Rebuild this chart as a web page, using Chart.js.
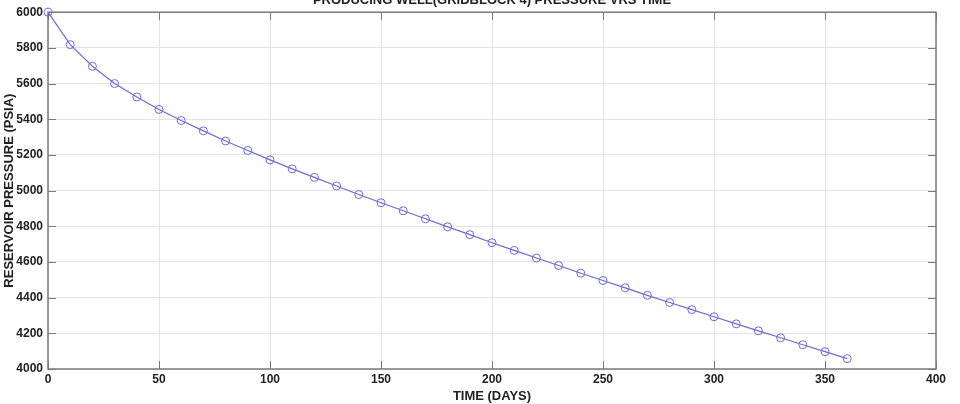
<!DOCTYPE html>
<html>
<head>
<meta charset="utf-8">
<script src="https://cdn.jsdelivr.net/npm/chart.js@4"></script>
<style>
  html, body { margin: 0; padding: 0; background: #fff; }
  #wrap { width: 960px; height: 404px; position: relative; }
</style>
</head>
<body>
<div id="wrap"><canvas id="wellPressure"></canvas></div>
<script>
// producing well pressure vs time

const days = [0, 10, 20, 30, 40, 50, 60, 70, 80, 90, 100, 110, 120, 130, 140, 150, 160, 170, 180,
  190, 200, 210, 220, 230, 240, 250, 260, 270, 280, 290, 300, 310, 320, 330, 340, 350, 360];

const pressure = [6000, 5818, 5697, 5600, 5525, 5455, 5393, 5335, 5278, 5225, 5172, 5122, 5074,
  5026, 4978, 4932, 4887, 4842, 4797, 4753, 4708, 4665, 4622, 4580, 4537, 4496, 4455, 4413,
  4373, 4333, 4293, 4253, 4214, 4175, 4136, 4097, 4058];

const chartTitle = 'PRODUCING WELL(GRIDBLOCK 4) PRESSURE VRS TIME';
const xTitle = 'TIME (DAYS)';
const yTitle = 'RESERVOIR PRESSURE (PSIA)';

const FONT = '"Liberation Sans", Arial, sans-serif';
const lineColor = '#6b6bd6';

// box round the axes, inward ticks and the clipped title at the top
const matlabBox = {
  id: 'matlabBox',
  beforeDatasetsDraw(chart) {
    const { ctx, chartArea: a, scales } = chart;
    ctx.save();
    ctx.strokeStyle = '#7a7a7a';
    ctx.lineWidth = 1.5;
    ctx.strokeRect(a.left, a.top, a.right - a.left, a.bottom - a.top);
    ctx.beginPath();
    scales.x.ticks.forEach(t => {
      const px = Math.round(scales.x.getPixelForValue(t.value)) + 0.5;
      ctx.moveTo(px, a.bottom); ctx.lineTo(px, a.bottom - 8);
      ctx.moveTo(px, a.top); ctx.lineTo(px, a.top + 8);
    });
    scales.y.ticks.forEach(t => {
      const py = Math.round(scales.y.getPixelForValue(t.value)) + 0.5;
      ctx.moveTo(a.left, py); ctx.lineTo(a.left + 8, py);
      ctx.moveTo(a.right, py); ctx.lineTo(a.right - 8, py);
    });
    ctx.lineWidth = 1;
    ctx.stroke();
    ctx.restore();
  },
  afterDraw(chart) {
    const { ctx, chartArea: a } = chart;
    ctx.save();
    ctx.fillStyle = '#222';
    ctx.font = 'bold 13px ' + FONT;
    ctx.textAlign = 'center';
    ctx.textBaseline = 'alphabetic';
    ctx.fillText(chartTitle, (a.left + a.right) / 2, 4);
    ctx.restore();
  }
};

new Chart(
  document.getElementById('wellPressure'),
  {
    type: 'line',
    data: {
      datasets: [
        {
          label: 'Pressure',
          data: days.map((d, i) => ({ x: d, y: pressure[i] })),
          borderColor: lineColor,
          borderWidth: 1.2,
          backgroundColor: 'rgba(0,0,0,0)',
          pointStyle: 'circle',
          pointRadius: 4,
          pointBorderWidth: 1,
          pointBorderColor: lineColor,
          pointBackgroundColor: 'rgba(0,0,0,0)',
          tension: 0,
          clip: false
        }
      ]
    },
    options: {
      responsive: true,
      maintainAspectRatio: false,
      animation: false,
      layout: { padding: { top: 7, right: 24, left: 0, bottom: 0 } },
      plugins: {
        legend: { display: false },
        tooltip: { enabled: false }
      },
      scales: {
        x: {
          type: 'linear',
          min: 0,
          max: 400,
          ticks: { stepSize: 50, color: '#222', font: { family: FONT, size: 12, weight: 'bold' }, padding: 3 },
          grid: { color: '#e4e4e4', drawTicks: false },
          border: { display: false },
          title: { display: true, text: xTitle, color: '#222', font: { family: FONT, size: 13, weight: 'bold' }, padding: { top: 1, bottom: 0 } },
          afterFit(scale) { scale.height = 35; }
        },
        y: {
          min: 4000,
          max: 6000,
          ticks: {
            stepSize: 200,
            color: '#222',
            font: { family: FONT, size: 12, weight: 'bold' },
            padding: 5,
            callback: v => String(v)
          },
          grid: { color: '#e4e4e4', drawTicks: false },
          border: { display: false },
          title: { display: true, text: yTitle, color: '#222', font: { family: FONT, size: 13, weight: 'bold' }, padding: { top: 2, bottom: 2 } },
          afterFit(scale) { scale.width = 48; }
        }
      }
    },
    plugins: [matlabBox]
  }
);
</script>
</body>
</html>
